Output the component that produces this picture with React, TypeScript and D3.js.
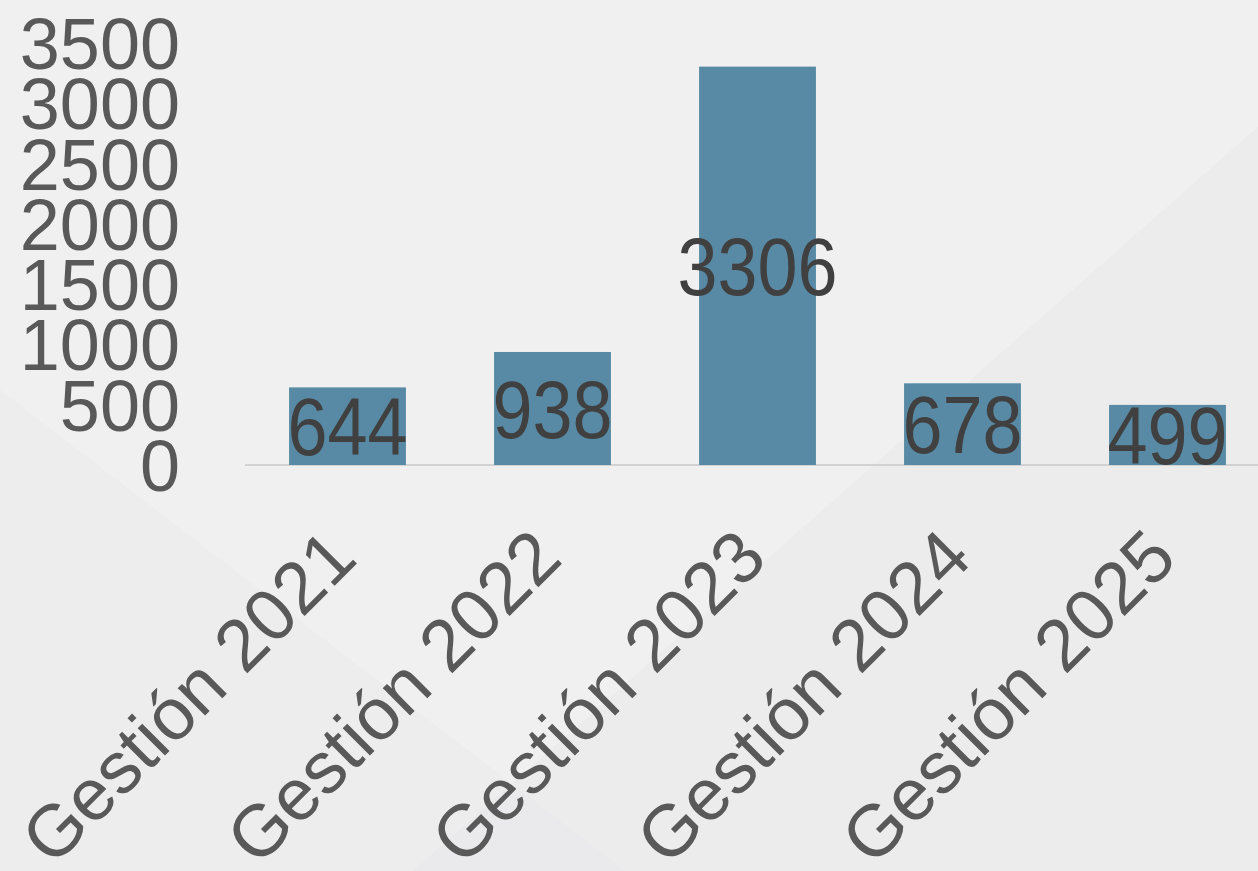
import React from "react";
import * as d3 from "d3";

const categories = ["Gestión 2021", "Gestión 2022", "Gestión 2023", "Gestión 2024", "Gestión 2025"];
const values = [644, 938, 3306, 678, 499];
const yTicks = [0, 500, 1000, 1500, 2000, 2500, 3000, 3500];

const W = 1258;
const H = 871;

export default function App() {
  const x = d3.scaleBand<string>().domain(categories).range([245, 1270]).paddingInner(0.43).paddingOuter(0.215);
  const y = d3.scaleLinear().domain([0, 3500]).range([465, 465 - 3500 * 0.1205]);
  const font = "'Liberation Sans', Arial, sans-serif";
  return (
    <svg width={W} height={H} style={{ position: "absolute", left: 0, top: 0, display: "block" }}>
      <rect x={0} y={0} width={W} height={H} fill="#f0f0f0" />
      <polygon points={`0,390 ${(871 - 390) / 0.77},871 0,871`} fill="#e9e9eb" opacity={0.5} />
      <polygon points={`${W},127 413,871 ${W},871`} fill="#e7e7ea" opacity={0.5} />
      <line x1={245} x2={W} y1={y(0)} y2={y(0)} stroke="#c9c9c9" strokeWidth={1.6} />
      {categories.map((c, i) => (
        <rect key={c} x={x(c)!} y={y(values[i])} width={x.bandwidth()} height={y(0) - y(values[i])} fill="#588aa5" />
      ))}
      {yTicks.map((t) => (
        <text key={t} x={180} y={y(t)} dy="0.36em" textAnchor="end" fontFamily={font} fontSize={72} fill="#595959">
          {t}
        </text>
      ))}
      {categories.map((c, i) => {
        const cx = x(c)! + x.bandwidth() / 2;
        const cy = (y(values[i]) + y(0)) / 2;
        return (
          <text key={c} transform={`translate(${cx},${cy}) scale(1,1.12)`} dy="0.36em" textAnchor="middle" fontFamily={font} fontSize={72} fill="#404040">
            {values[i]}
          </text>
        );
      })}
      {categories.map((c) => {
        const cx = x(c)! + x.bandwidth() / 2;
        return (
          <text key={c} transform={`translate(${cx + 12},561) rotate(-45)`} textAnchor="end" fontFamily={font} fontSize={73} fill="#595959">
            {c}
          </text>
        );
      })}
    </svg>
  );
}
